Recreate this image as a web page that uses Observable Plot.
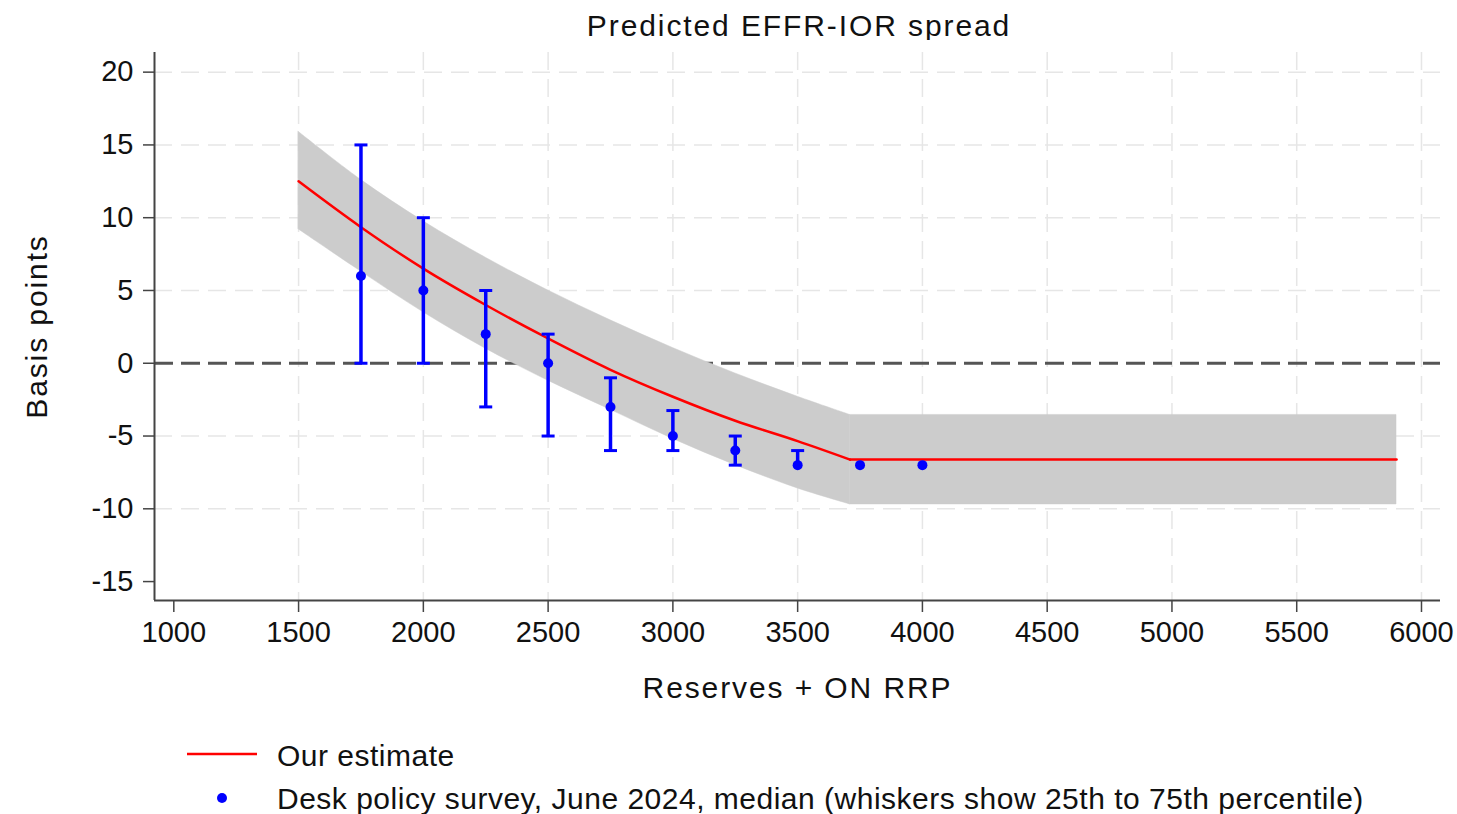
<!DOCTYPE html>
<html>
<head>
<meta charset="utf-8">
<script src="https://cdn.jsdelivr.net/npm/d3@7"></script>
<script src="https://cdn.jsdelivr.net/npm/@observablehq/plot@0.6"></script>
<style>
  body { margin: 0; background: #fff; font-family: "Liberation Sans", Arial, sans-serif; color: #111; }
  #wrap { position: relative; width: 1457px; height: 814px; overflow: hidden; }
  #title { position: absolute; left: 156px; width: 1286px; top: 11px; text-align: center; font-size: 30px; line-height: 30px; letter-spacing: 1.9px; }
  #chart { position: absolute; left: 0; top: 40px; }
  .leg { position: absolute; left: 277px; font-size: 30px; line-height: 30px; letter-spacing: 0.5px; white-space: nowrap; }
  .sw { position: absolute; }
</style>
</head>
<body>
<div id="wrap">
  <div id="title">Predicted EFFR-IOR spread</div>
  <div id="chart"></div>
  <svg class="sw" style="left:0;top:720px" width="300" height="94">
    <line x1="187" x2="257" y1="34" y2="34" stroke="#ff0000" stroke-width="2.5"></line>
    <circle cx="222" cy="78" r="5" fill="#0000ff"></circle>
  </svg>
  <div class="leg" style="top:741px">Our estimate</div>
  <div class="leg" style="top:784px">Desk policy survey, June 2024, median (whiskers show 25th to 75th percentile)</div>
</div>
<script>
// ---- data ----
const estX   = [1500, 1750, 2000, 2250, 2500, 2750, 3000, 3250, 3500, 3710, 5900];
const estMid = [12.5, 9.35, 6.5, 4.0, 1.7, -0.45, -2.3, -3.95, -5.35, -6.62, -6.62];
const estHi  = [15.9, 12.6, 9.75, 7.25, 5.0, 2.95, 1.05, -0.7, -2.3, -3.55, -3.55];
const estLo  = [9.2, 6.3, 3.5, 1.0, -1.2, -3.2, -5.2, -7.0, -8.6, -9.7, -9.7];

const surveyX   = [1750, 2000, 2250, 2500, 2750, 3000, 3250, 3500, 3750, 4000];
const surveyMed = [6, 5, 2, 0, -3, -5, -6, -7, -7, -7];
const surveyP25 = [0, 0, -3, -5, -6, -6, -7, -7, -7, -7];
const surveyP75 = [15, 10, 5, 2, -1, -3.25, -5, -6, -7, -7];

const xTicks = [1000, 1500, 2000, 2500, 3000, 3500, 4000, 4500, 5000, 5500, 6000];
const yTicks = [-15, -10, -5, 0, 5, 10, 15, 20];
const xDomain = [922.6, 6076.2];
const yDomain = [-16.3, 21.35];

// ---- tables ----
const est = estX.map((x, i) => ({x, mid: estMid[i], hi: estHi[i], lo: estLo[i]}));
const kink = 9;
const curved = est.slice(0, kink + 1);
const flat = est.slice(kink);
const survey = surveyX.map((x, i) => ({x, med: surveyMed[i], p25: surveyP25[i], p75: surveyP75[i]}));
const withWhisk = survey.filter(d => d.p75 > d.p25);

const capSymbol = {
  draw(ctx, size) {
    const r = Math.sqrt(size / Math.PI);
    ctx.moveTo(-r, 0);
    ctx.lineTo(r, 0);
  }
};

const blue = "#0000ff";
const gridStyle = {stroke: "#e6e6e6", strokeOpacity: 1, strokeWidth: 1.5, strokeDasharray: "18,9"};
const plot = Plot.plot({
  width: 1457,
  height: 680,
  marginTop: 12,
  marginBottom: 120,
  marginLeft: 154,
  marginRight: 17,
  style: {fontFamily: "'Liberation Sans', Arial, sans-serif", fontSize: "29px", background: "white", color: "#111", overflow: "visible"},
  x: {domain: xDomain, label: null},
  y: {domain: yDomain, label: null},
  marks: [
    Plot.gridX(xTicks.filter(t => t > 1000), gridStyle),
    Plot.gridY(yTicks.filter(t => t !== 0 && t !== -15), gridStyle),
    Plot.ruleY([0], {stroke: "#555", strokeWidth: 3, strokeDasharray: "19,8"}),
    Plot.areaY(curved, {x: "x", y1: "lo", y2: "hi", fill: "#cccccc", stroke: "#cccccc", strokeWidth: 0.5, curve: "catmull-rom"}),
    Plot.areaY(flat, {x: "x", y1: "lo", y2: "hi", fill: "#cccccc", stroke: "#cccccc", strokeWidth: 0.5}),
    Plot.lineY(curved, {x: "x", y: "mid", stroke: "#ff0000", strokeWidth: 2.5, curve: "catmull-rom"}),
    Plot.lineY(flat, {x: "x", y: "mid", stroke: "#ff0000", strokeWidth: 2.5}),
    Plot.ruleX(withWhisk, {x: "x", y1: "p25", y2: "p75", stroke: blue, strokeWidth: 3.5}),
    Plot.dot(withWhisk.filter(d => d.p25 < d.med), {x: "x", y: "p25", symbol: capSymbol, r: 6.5, fill: "none", stroke: blue, strokeWidth: 3}),
    Plot.dot(withWhisk.filter(d => d.p75 > d.med), {x: "x", y: "p75", symbol: capSymbol, r: 6.5, fill: "none", stroke: blue, strokeWidth: 3}),
    Plot.dot(survey, {x: "x", y: "med", r: 5, fill: blue}),
    Plot.ruleX([xDomain[0]], {stroke: "#444", strokeWidth: 2}),
    Plot.ruleY([yDomain[0]], {stroke: "#444", strokeWidth: 2}),
    Plot.axisX(xTicks, {tickSize: 12, tickPadding: 9, fontSize: 29, stroke: "#444", strokeWidth: 1.5, fill: "#111", label: null, tickFormat: d => String(d)}),
    Plot.axisY(yTicks, {tickSize: 11, tickPadding: 10, fontSize: 29, stroke: "#444", strokeWidth: 1.5, fill: "#111", label: null, tickFormat: d => String(d)}),
    Plot.text(["Reserves + ON RRP"], {frameAnchor: "bottom", dy: 88, fontSize: 30, fill: "#111", lineAnchor: "middle", textAnchor: "middle"}),
    Plot.text(["Basis points"], {frameAnchor: "left", dx: -117, fontSize: 30, fill: "#111", rotate: -90, lineAnchor: "middle", textAnchor: "middle"})
  ]
});
document.getElementById("chart").appendChild(plot);
d3.select(plot).selectAll('g[aria-label="text"] text').style("letter-spacing", "1.9px");
</script>
</body>
</html>
